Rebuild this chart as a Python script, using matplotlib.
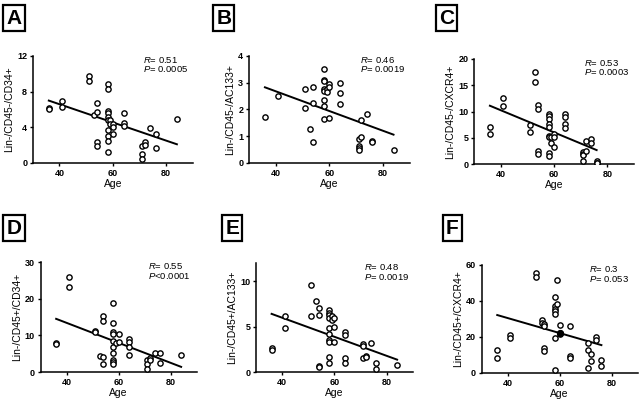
import numpy as np
import matplotlib.pyplot as plt

plt.rcParams['font.family'] = ['Liberation Sans', 'DejaVu Sans']
plt.rcParams['mathtext.fontset'] = 'custom'
plt.rcParams['mathtext.it'] = 'Liberation Sans:italic'
plt.rcParams['mathtext.rm'] = 'Liberation Sans'

# --- data ---------------------------------------------------------------
age_a = [36, 36, 41, 41, 51, 51, 53, 54, 54, 54, 54,
         58, 58, 58, 58, 58, 58, 58, 58, 58, 58,
         59, 59, 60, 60, 60, 64, 64, 64, 71, 71, 71, 72, 72, 74, 76, 76, 84]
val_a = [6.2, 6.0, 7.0, 6.3, 9.75, 9.15, 5.4, 6.7, 5.75, 2.35, 1.95,
         8.9, 8.3, 5.85, 5.6, 5.2, 4.85, 3.65, 3.0, 2.5, 1.2,
         4.85, 4.4, 4.4, 4.0, 3.3, 5.65, 4.45, 4.1, 1.95, 1.05, 0.5, 2.4, 2.05, 3.9, 3.3, 1.65, 4.9]

age_b = [36, 41, 51, 51, 53, 54, 54, 54,
         58, 58, 58, 58, 58, 58, 58, 58, 59, 59, 60, 60, 60,
         64, 64, 64, 71, 71, 71, 71, 72, 72, 74, 76, 76, 84]
val_b = [1.72, 2.5, 2.75, 2.05, 1.28, 2.85, 2.25, 0.78,
         3.5, 3.12, 3.05, 2.78, 2.7, 2.35, 2.12, 1.63, 2.75, 2.65, 2.95, 2.85, 1.68,
         2.98, 2.6, 2.2, 0.88, 0.62, 0.55, 0.48, 1.6, 0.98, 1.82, 0.82, 0.78, 0.48]

age_c = [36, 36, 41, 41, 51, 51, 53, 53, 54, 54, 54, 54,
         58, 58, 58, 58, 58, 58, 58, 58, 58, 59, 59, 60, 60, 60,
         64, 64, 64, 64, 71, 71, 71, 71, 72, 72, 74, 74, 76, 76, 76]
val_c = [6.96, 5.7, 12.5, 11.1, 7.5, 6.1, 17.5, 15.6, 11.3, 10.4, 2.5, 1.9,
         9.6, 9.1, 8.5, 7.7, 7.1, 5.3, 5.2, 2.15, 1.5, 5.1, 4.05, 5.7, 5.2, 3.15,
         9.6, 9.0, 7.6, 6.8, 2.3, 2.0, 1.65, 0.5, 4.3, 2.5, 4.8, 4.05, 0.5, 0.25, 0.1]

age_d = [36, 36, 41, 41, 51, 51, 53, 54, 54, 54, 54,
         58, 58, 58, 58, 58, 58, 58, 58, 58, 58, 59, 60, 60,
         64, 64, 64, 64, 71, 71, 71, 72, 72, 74, 76, 76, 84]
val_d = [7.96, 7.6, 25.8, 23.05, 11.25, 10.9, 4.3, 15.4, 14.0, 4.1, 2.3,
         18.75, 13.45, 10.8, 10.5, 8.5, 6.9, 5.2, 3.2, 2.7, 2.3, 7.8, 10.3, 8.2,
         8.9, 8.2, 6.7, 4.7, 3.2, 2.1, 0.8, 3.75, 3.2, 5.3, 5.3, 2.5, 4.7]

age_e = [36, 36, 41, 41, 51, 51, 53, 54, 54, 54, 54,
         58, 58, 58, 58, 58, 58, 58, 58, 58, 58, 59, 59, 60, 60, 60,
         64, 64, 64, 64, 71, 71, 71, 72, 72, 74, 76, 76, 84]
val_e = [2.6, 2.4, 6.2, 4.85, 9.55, 6.15, 7.8, 7.1, 6.3, 0.7, 0.5,
         6.8, 6.5, 6.3, 5.9, 4.8, 4.15, 3.5, 3.35, 1.65, 1.0, 6.15, 5.75, 5.9, 4.95, 3.3,
         4.4, 4.1, 1.5, 1.0, 3.1, 2.9, 1.5, 1.8, 1.65, 3.2, 1.0, 0.3, 0.8]

age_f = [36, 36, 41, 41, 51, 51, 53, 53, 54, 54, 54, 54,
         58, 58, 58, 58, 58, 58, 58, 59, 59, 60, 60, 60,
         64, 64, 64, 71, 71, 71, 72, 72, 74, 74, 76, 76]
val_f = [13.0, 8.5, 21.2, 19.7, 55.4, 53.1, 29.7, 27.9, 27.1, 26.0, 14.1, 12.3,
         42.0, 37.2, 35.7, 34.2, 32.7, 19.3, 1.9, 51.6, 38.3, 26.7, 22.3, 21.5,
         26.0, 9.7, 8.2, 16.7, 12.6, 3.0, 10.8, 6.7, 20.1, 18.6, 7.4, 4.1]

# regression line values at youngest / oldest age
fit_a = [7.0, 2.1]
fit_b = [2.83, 1.06]
fit_c = [11.1, 2.65]
fit_d = [14.5, 1.4]
fit_e = [6.4, 1.36]
fit_f = [32.2, 15.5]

letters = ['A', 'B', 'C', 'D', 'E', 'F']
ylabels = ['Lin-/CD45-/CD34+', 'Lin-/CD45-/AC133+', 'Lin-/CD45-/CXCR4+',
           'Lin-/CD45+/CD34+', 'Lin-/CD45+/AC133+', 'Lin-/CD45+/CXCR4+']
r_text = ['0.51', '0.46', '0.53', '0.55', '0.48', '0.3']
p_text = ['= 0.0005', '= 0.0019', '= 0.0003', '<0.0001', '= 0.0019', '= 0.053']
yticks = [[0, 4, 8, 12], [0, 1, 2, 3, 4], [0, 5, 10, 15, 20],
          [0, 10, 20, 30], [0, 5, 10], [0, 20, 40, 60]]
ylims = [12, 4, 20, 30, 12, 60]

ages = [age_a, age_b, age_c, age_d, age_e, age_f]
vals = [val_a, val_b, val_c, val_d, val_e, val_f]
fits = [fit_a, fit_b, fit_c, fit_d, fit_e, fit_f]

# layout (figure fractions)
rects = [[0.051, 0.5925, 0.249, 0.2675], [0.387, 0.5925, 0.250, 0.2675],
         [0.737, 0.59, 0.249, 0.2625],
         [0.063, 0.07, 0.243, 0.275], [0.398, 0.07, 0.244, 0.2725],
         [0.749, 0.0675, 0.243, 0.27]]
letter_pos = [(0.0218, 0.955), (0.348, 0.955), (0.694, 0.955),
              (0.0218, 0.43), (0.361, 0.43), (0.703, 0.43)]

fig = plt.figure(figsize=(6.43, 4.0), dpi=100)

for i in range(6):
    ax = fig.add_axes(rects[i])
    x = np.array(ages[i])
    y = np.array(vals[i])
    ax.plot(x, y, 'o', mfc='white', mec='black', ms=3.8, mew=1.0, zorder=3)
    ax.plot([x.min(), x.max()], fits[i], color='black', lw=1.4, zorder=2)
    if i == 5:
        # point sitting on the regression line is drawn filled
        k = np.argmin(np.abs(y - 22.3) + np.abs(x - 60))
        ax.plot(x[k], y[k], 'o', color='black', ms=4.2, zorder=4)

    ax.set_xlim(30, 90)
    ax.set_ylim(0, ylims[i])
    ax.set_xticks([40, 60, 80])
    ax.set_yticks(yticks[i])
    for s in ['top', 'right']:
        ax.spines[s].set_visible(False)
    for s in ['left', 'bottom']:
        ax.spines[s].set_linewidth(1.1)
    ax.tick_params(direction='out', length=2.5, width=1.0, pad=1.5,
                   labelsize=6.5)
    for lab in ax.get_xticklabels() + ax.get_yticklabels():
        lab.set_fontweight('bold')
    ax.set_xlabel('Age', fontsize=7.5, labelpad=1)
    ax.set_ylabel(ylabels[i], fontsize=7.5, labelpad=2)

    ax.text(0.69, 0.96, r'$\it{R}$= ' + r_text[i], transform=ax.transAxes,
            fontsize=6.8, va='center', ha='left')
    ax.text(0.69, 0.875, r'$\it{P}$' + p_text[i], transform=ax.transAxes,
            fontsize=6.8, va='center', ha='left')

    fig.text(letter_pos[i][0], letter_pos[i][1], letters[i], fontsize=15,
             fontweight='bold', ha='center', va='center',
             bbox=dict(boxstyle='square,pad=0.15', fc='white', ec='black', lw=1.6))

fig.savefig('out.png', dpi=100)
